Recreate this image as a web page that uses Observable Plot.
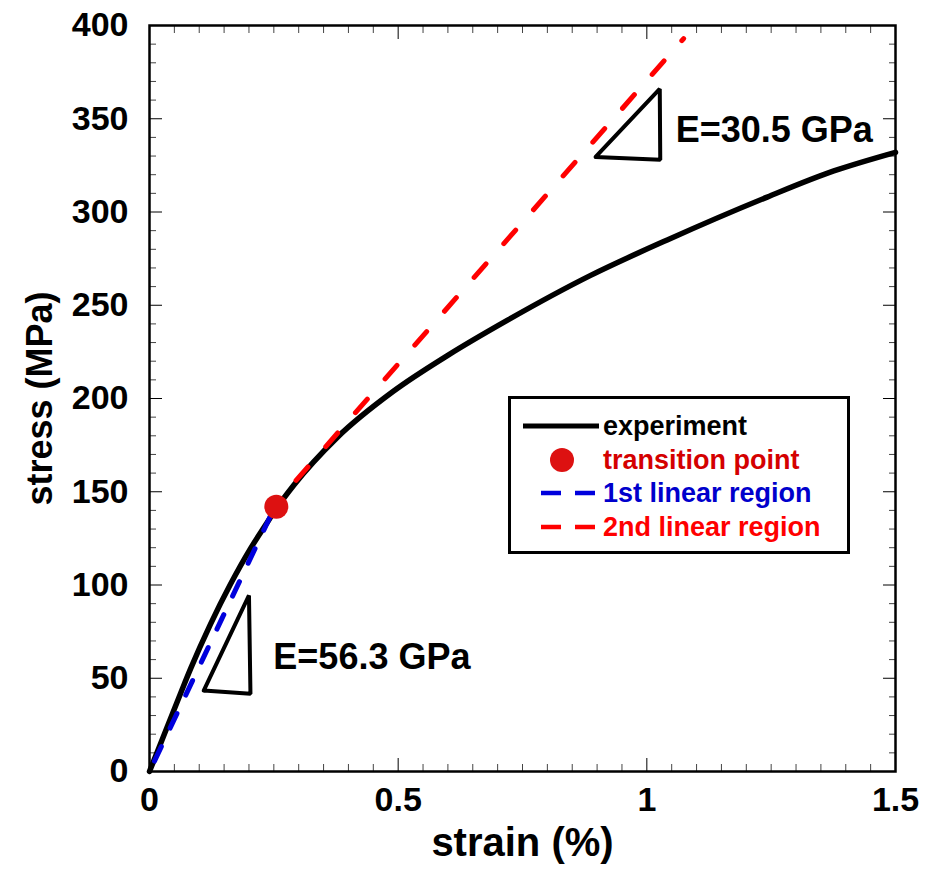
<!DOCTYPE html>
<html>
<head>
<meta charset="utf-8">
<script src="https://cdn.jsdelivr.net/npm/d3@7"></script>
<script src="https://cdn.jsdelivr.net/npm/@observablehq/plot@0.6"></script>
<style>
  html, body { margin: 0; padding: 0; background: #fff; }
  #wrap { position: relative; width: 925px; height: 877px; font-family: "Liberation Sans", Arial, sans-serif; }
  #legend { position: absolute; left: 508px; top: 396px; width: 336px; height: 152px; border: 3px solid #000; background: #fff; }
  .row { position: absolute; left: 0; height: 32px; width: 100%; }
  .row svg { position: absolute; left: 12px; top: 0; }
  .row span { position: absolute; left: 92px; top: 0; line-height: 32px; font-size: 27px; font-weight: bold; white-space: nowrap; }
</style>
</head>
<body>
<div id="wrap"></div>
<script>
// experiment curve (strain %, stress MPa)
const expStrain = [0, 0.025, 0.065, 0.0825, 0.1227, 0.163, 0.203, 0.233, 0.255, 0.29, 0.377, 0.491, 0.599, 0.72, 0.887, 1.041, 1.242, 1.376, 1.5];
const expStress = [0, 16.8, 43.6, 55, 79, 100.5, 119.5, 132, 141, 153.5, 179, 204, 223, 242, 266, 285, 308, 322, 332];

// transition point
const transStrain = [0.255];
const transStress = [142];

// 1st linear region (E = 56.3 GPa)
const lin1Strain = [0.01, 0.255];
const lin1Stress = [5.6, 143.6];

// 2nd linear region (E = 30.5 GPa)
const lin2Strain = [0.255, 1.074];
const lin2Stress = [144, 393];

// slope triangles
const tri1Strain = [0.109, 0.2, 0.203, 0.109];
const tri1Stress = [43.4, 94.4, 41.7, 43.4];
const tri2Strain = [0.897, 1.026, 1.027, 0.897];
const tri2Stress = [329.5, 366, 328, 329.5];

// annotations
const annoLabels = ["E=56.3 GPa", "E=30.5 GPa"];
const annoStrain = [0.249, 1.058];
const annoStress = [61, 343.7];

// ticks
const xMajor = [0, 0.5, 1, 1.5];
const xMinor = d3.range(0, 31).map(i => i * 0.05).filter(v => Math.abs(v * 2 - Math.round(v * 2)) > 1e-6);
const yMajor = [0, 50, 100, 150, 200, 250, 300, 350, 400];
const yMinor = d3.range(0, 41).map(i => i * 10).filter(v => v % 50 !== 0);

const zip = (xs, ys) => xs.map((x, i) => ({x, y: ys[i]}));

const font = "Liberation Sans, Arial, sans-serif";

const chart = Plot.plot({
  width: 925,
  height: 877,
  marginLeft: 149,
  marginRight: 30,
  marginTop: 25,
  marginBottom: 106,
  style: {fontFamily: font, background: "#fff", overflow: "visible"},
  x: {domain: [0, 1.5]},
  y: {domain: [0, 400]},
  marks: [
    // labels
    Plot.axisX(xMajor, {anchor: "bottom", tickSize: 0, tickPadding: 15, fontSize: 34, fontWeight: "bold", label: null, tickFormat: d => String(d)}),
    Plot.axisY(yMajor, {anchor: "left", tickSize: 0, tickPadding: 21, fontSize: 34, fontWeight: "bold", label: null, tickFormat: d => String(d)}),
    // inward ticks
    Plot.axisX(xMinor, {anchor: "bottom", tickSize: -7, tickFormat: () => "", label: null, stroke: "#444"}),
    Plot.axisX(xMajor, {anchor: "bottom", tickSize: -13, tickFormat: () => "", label: null}),
    Plot.axisX(xMinor, {anchor: "top", tickSize: -7, tickFormat: () => "", label: null, stroke: "#444"}),
    Plot.axisX(xMajor, {anchor: "top", tickSize: -13, tickFormat: () => "", label: null}),
    Plot.axisY(yMinor, {anchor: "left", tickSize: -7, tickFormat: () => "", label: null, stroke: "#444"}),
    Plot.axisY(yMajor, {anchor: "left", tickSize: -13, tickFormat: () => "", label: null}),
    Plot.axisY(yMinor, {anchor: "right", tickSize: -7, tickFormat: () => "", label: null, stroke: "#444"}),
    Plot.axisY(yMajor, {anchor: "right", tickSize: -13, tickFormat: () => "", label: null}),
    Plot.frame({stroke: "#000", strokeWidth: 2.5}),
    // axis titles
    Plot.text(["strain (%)"], {frameAnchor: "bottom", textAnchor: "middle", dy: 84, fontSize: 40, fontWeight: "bold", fill: "#000"}),
    Plot.text(["stress (MPa)"], {frameAnchor: "left", textAnchor: "middle", dx: -109, rotate: -90, fontSize: 36, fontWeight: "bold", fill: "#000"}),
    // data
    Plot.line(zip(expStrain, expStress), {x: "x", y: "y", stroke: "#000", strokeWidth: 5.5, curve: "monotone-x"}),
    Plot.line(zip(lin1Strain, lin1Stress), {x: "x", y: "y", stroke: "#0000dd", strokeWidth: 5, strokeDasharray: "16,20.5", strokeLinecap: "round"}),
    Plot.line(zip(lin2Strain, lin2Stress), {x: "x", y: "y", stroke: "#ff0000", strokeWidth: 5, strokeDasharray: "18,27", strokeDashoffset: 15, strokeLinecap: "round"}),
    Plot.line(zip(tri1Strain, tri1Stress), {x: "x", y: "y", stroke: "#000", strokeWidth: 4, strokeLinejoin: "miter"}),
    Plot.line(zip(tri2Strain, tri2Stress), {x: "x", y: "y", stroke: "#000", strokeWidth: 4, strokeLinejoin: "miter"}),
    Plot.dot(zip(transStrain, transStress), {x: "x", y: "y", r: 12, fill: "#dd1111", stroke: null}),
    Plot.text(zip(annoStrain, annoStress).map((d, i) => ({...d, t: annoLabels[i]})), {x: "x", y: "y", text: "t", textAnchor: "start", fontSize: 36, fontWeight: "bold", fill: "#000"})
  ]
});

const wrap = document.getElementById("wrap");
wrap.appendChild(chart);

// legend
const legendItems = [
  {label: "experiment", color: "#000", kind: "solid", lineColor: "#000"},
  {label: "transition point", color: "#d40000", kind: "dot", lineColor: "#dd1111"},
  {label: "1st linear region", color: "#0000cc", kind: "dash", lineColor: "#0000dd"},
  {label: "2nd linear region", color: "#ff0000", kind: "dash", lineColor: "#ff0000"}
];
const legend = document.createElement("div");
legend.id = "legend";
legendItems.forEach((it, i) => {
  const row = document.createElement("div");
  row.className = "row";
  row.style.top = (11 + i * 33.5) + "px";
  let sample = "";
  if (it.kind === "solid") sample = `<line x1="0" x2="76" y1="16" y2="16" stroke="${it.lineColor}" stroke-width="5"/>`;
  if (it.kind === "dot") sample = `<circle cx="39" cy="16" r="12" fill="${it.lineColor}"/>`;
  if (it.kind === "dash") sample = `<line x1="18" x2="86" y1="16" y2="16" stroke="${it.lineColor}" stroke-width="4.5" stroke-dasharray="20,14"/>`;
  row.innerHTML = `<svg width="80" height="32">${sample}</svg><span style="color:${it.color}">${it.label}</span>`;
  legend.appendChild(row);
});
wrap.appendChild(legend);
</script>
</body>
</html>
